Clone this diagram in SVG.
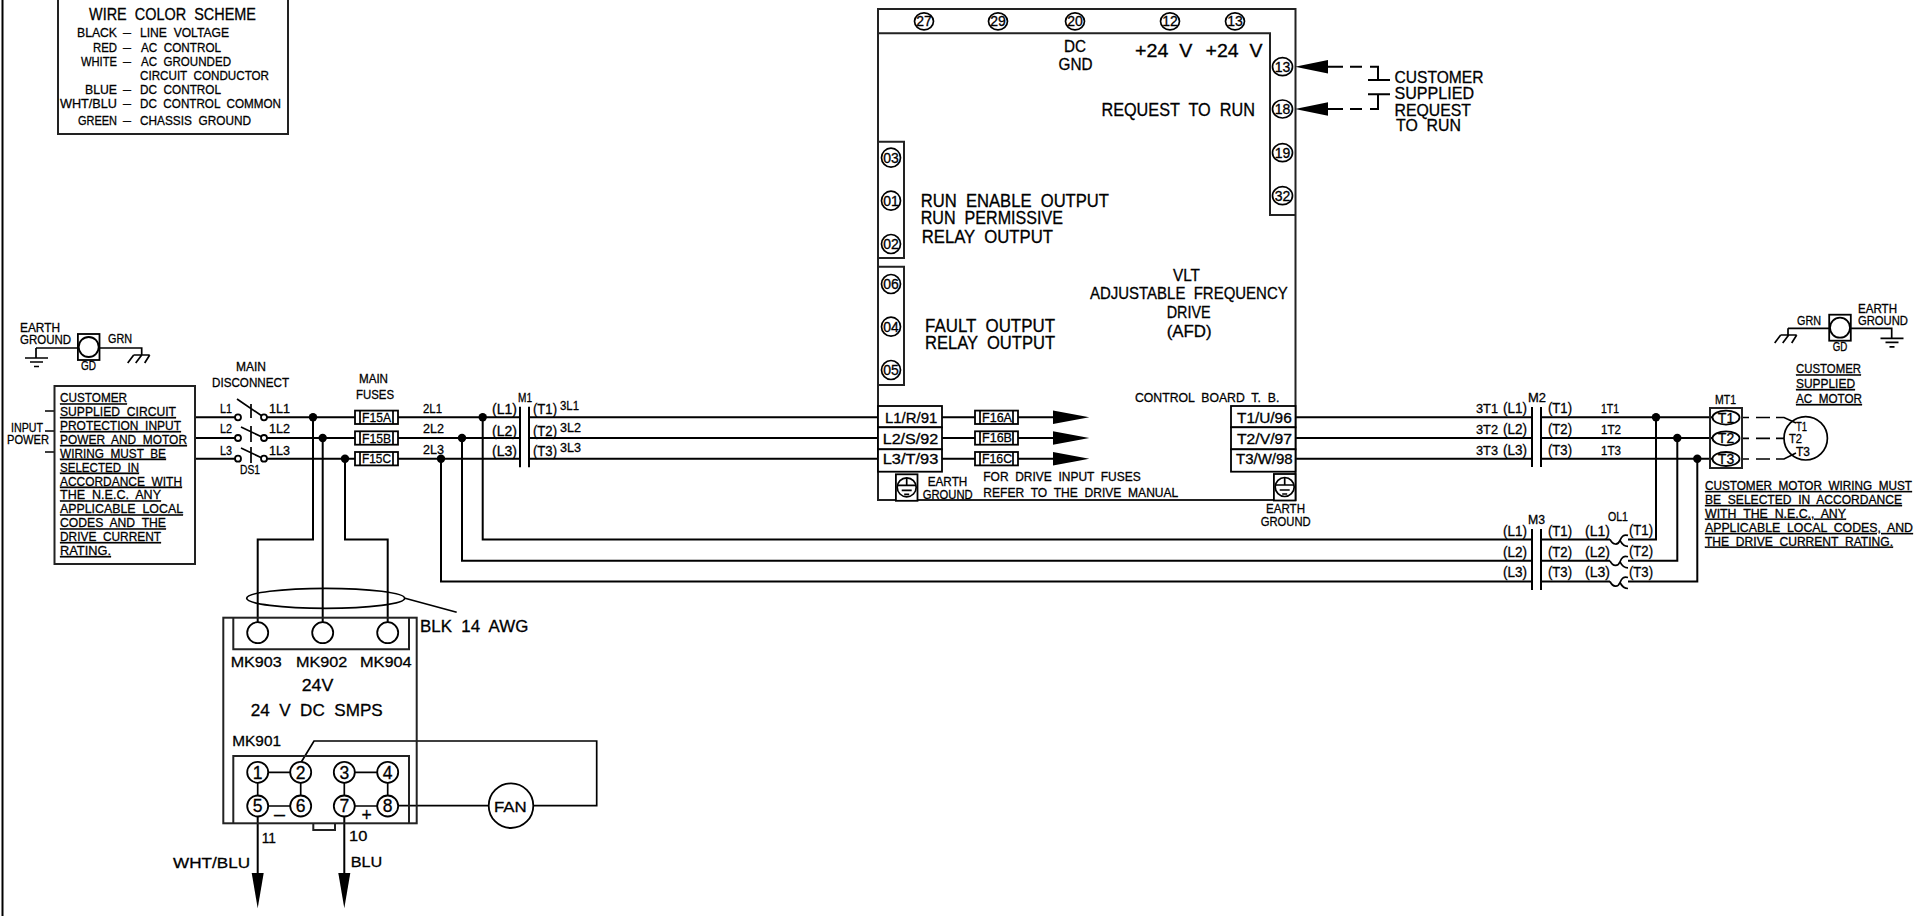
<svg xmlns="http://www.w3.org/2000/svg" width="1923" height="916" viewBox="0 0 1923 916">
<style>
text{font-family:"Liberation Sans",Arial,sans-serif;fill:#000;stroke:#000;stroke-width:.3px;word-spacing:.28em}
.s10{font-size:12px}.s11{font-size:12px}.s12{font-size:13px}.s13{font-size:13.500px}.s14{font-size:14px}.s15{font-size:15.500px}.s16{font-size:16.500px}.s17{font-size:17.500px}
.m{text-anchor:middle}
.u{text-decoration:underline}
.w{fill:none;stroke:#000;stroke-width:2}
.t{fill:none;stroke:#000;stroke-width:1.700}
.b{fill:#fff;stroke:#000;stroke-width:1.800}
.n{fill:none;stroke:#222;stroke-width:2}
.j{fill:#000;stroke:none}
.a{fill:#000;stroke:none}
</style>
<defs>
<g id="fuse"><rect class="b" x="0" y="-6.700" width="43" height="13.400"/><path class="t" d="M5-6.700V6.700M38-6.700V6.700"/></g>
<g id="gnd"><path class="t" d="M-11.500 0H11.500M-6.500 4H6.500M-2.500 8.500H2.500"/></g>
<g id="chassis"><path class="t" d="M-8 0H8M-8 0L-14 8M0 0L-6 8M8 0L3 8"/></g>
<g id="gdbox"><rect class="b" x="-10.800" y="-13" width="21.600" height="26"/><circle class="b" cx="0" cy="0" r="10"/></g>
<g id="earth"><rect class="b" x="-10.800" y="-13" width="21.600" height="26.500"/><circle class="t" cx="0" cy="0" r="9.500"/><path class="t" d="M0-9.500V-2M-9.500-2H9.500M-5 3H5M-2.500 7H2.500"/></g>
<g id="coil"><path class="t" d="M0 0C3 6 8 6 10 1C12-4 14-5 18-4M10 1C12 5 14 7 18 7"/></g>
</defs>
<g id="connectors">
<path class="w" d="M2.500 0V916"/>
<path class="w" d="M195 417.300H235M267 417.300H520M529 417.300H878"/>
<path class="w" d="M195 438H235M267 438H520M529 438H878"/>
<path class="w" d="M195 458.700H235M267 458.700H520M529 458.700H878"/>
<path class="w" d="M942 417.300H1053M942 438H1053M942 458.700H1053"/>
<path class="w" d="M1295 417.300H1532M1541 417.300H1712M1295 438H1532M1541 438H1712M1295 458.700H1532M1541 458.700H1712"/>
<path class="w" d="M482.700 417.300V539.400H1532M1541 539.400H1610M1628 539.400H1656V417.300"/>
<path class="w" d="M462 438V560.800H1532M1541 560.800H1610M1628 560.800H1677.300V438"/>
<path class="w" d="M441 458.700V581.500H1532M1541 581.500H1610M1628 581.500H1697.300V458.700"/>
<path class="w" d="M313 417.300V539.400H257.700V622"/>
<path class="w" d="M322.700 438V622"/>
<path class="w" d="M345 458.700V539.400H387.700V622"/>
<path class="t" d="M1742 417.500H1749M1756 417.500H1770M1776 417.500H1784L1796 423M1742 438.300H1749M1756 438.300H1770M1776 438.300H1784M1742 459H1749M1756 459H1770M1776 459H1784L1796 453"/>
<path class="t" d="M45 411H54M45 431H54M45 452H54"/>
<path class="t" d="M405 598.300L456.700 612.300"/>
<path class="t" d="M300.700 763L314 741H596.700V805.700H533M489 805.700H398"/>
<path class="w" d="M257.700 816V875M344.300 816V875"/>
<path class="w" d="M1328 66.700H1343M1350 66.700H1362M1370 66.700H1378V80M1368 80H1390M1328 109H1343M1350 109H1362M1370 109H1378V94.300M1368 94.300H1390"/>
<path class="t" d="M36 348V358M99 348H141.700V355"/>
<path class="t" d="M36 348H78"/>
<path class="t" d="M1788 328.300V335M1788 328.300H1829M1850.700 328.300H1891.700V338.300"/>
</g>
<g id="junctions">
<circle class="j" cx="313" cy="417.300" r="4.200"/><circle class="j" cx="322.700" cy="438" r="4.200"/><circle class="j" cx="345" cy="458.700" r="4.200"/>
<circle class="j" cx="482.700" cy="417.300" r="4.200"/><circle class="j" cx="462" cy="438" r="4.200"/><circle class="j" cx="441" cy="458.700" r="4.200"/>
<circle class="j" cx="1656" cy="417.300" r="4.200"/><circle class="j" cx="1677.300" cy="438" r="4.200"/><circle class="j" cx="1697.300" cy="458.700" r="4.200"/>
</g>
<g id="wire-color-scheme">
<rect class="n" x="58" y="-2" width="230" height="136"/>
<text class="s16" x="89" y="20" textLength="167" lengthAdjust="spacingAndGlyphs">WIRE COLOR SCHEME</text>
<text class="s13" y="37"><tspan x="77" textLength="40" lengthAdjust="spacingAndGlyphs">BLACK</tspan> <tspan x="123" textLength="8" lengthAdjust="spacingAndGlyphs">–</tspan> <tspan x="140" textLength="89" lengthAdjust="spacingAndGlyphs">LINE VOLTAGE</tspan></text>
<text class="s13" y="51.500"><tspan x="93" textLength="24" lengthAdjust="spacingAndGlyphs">RED</tspan> <tspan x="123" textLength="8" lengthAdjust="spacingAndGlyphs">–</tspan> <tspan x="141" textLength="80" lengthAdjust="spacingAndGlyphs">AC CONTROL</tspan></text>
<text class="s13" y="65.700"><tspan x="81" textLength="36" lengthAdjust="spacingAndGlyphs">WHITE</tspan> <tspan x="123" textLength="8" lengthAdjust="spacingAndGlyphs">–</tspan> <tspan x="141" textLength="90" lengthAdjust="spacingAndGlyphs">AC GROUNDED</tspan></text>
<text class="s13" x="140" y="80" textLength="129" lengthAdjust="spacingAndGlyphs">CIRCUIT CONDUCTOR</text>
<text class="s13" y="94"><tspan x="85" textLength="32" lengthAdjust="spacingAndGlyphs">BLUE</tspan> <tspan x="123" textLength="8" lengthAdjust="spacingAndGlyphs">–</tspan> <tspan x="140" textLength="81" lengthAdjust="spacingAndGlyphs">DC CONTROL</tspan></text>
<text class="s13" y="108"><tspan x="60" textLength="57" lengthAdjust="spacingAndGlyphs">WHT/BLU</tspan> <tspan x="123" textLength="8" lengthAdjust="spacingAndGlyphs">–</tspan> <tspan x="140" textLength="141" lengthAdjust="spacingAndGlyphs">DC CONTROL COMMON</tspan></text>
<text class="s13" y="124.500"><tspan x="78" textLength="39" lengthAdjust="spacingAndGlyphs">GREEN</tspan> <tspan x="123" textLength="8" lengthAdjust="spacingAndGlyphs">–</tspan> <tspan x="140" textLength="111" lengthAdjust="spacingAndGlyphs">CHASSIS GROUND</tspan></text>
</g>
<g id="ground-left">
<use href="#gnd" x="36.500" y="358"/><use href="#chassis" x="141.700" y="355"/><use href="#gdbox" x="88.700" y="347"/>
<text class="s12" x="20" y="332" textLength="40" lengthAdjust="spacingAndGlyphs">EARTH</text>
<text class="s12" x="20" y="344" textLength="51" lengthAdjust="spacingAndGlyphs">GROUND</text>
<text class="s12" x="108" y="343" textLength="24" lengthAdjust="spacingAndGlyphs">GRN</text>
<text class="s11" x="81" y="370" textLength="15" lengthAdjust="spacingAndGlyphs">GD</text>
</g>
<g id="input-note">
<rect class="n" x="54.500" y="386" width="140.500" height="178"/>
<text class="s13 u" x="60" y="402.300" textLength="67" lengthAdjust="spacingAndGlyphs">CUSTOMER</text>
<text class="s13 u" x="60" y="416" textLength="116" lengthAdjust="spacingAndGlyphs">SUPPLIED CIRCUIT</text>
<text class="s13 u" x="60" y="430" textLength="121" lengthAdjust="spacingAndGlyphs">PROTECTION INPUT</text>
<text class="s13 u" x="60" y="444" textLength="127" lengthAdjust="spacingAndGlyphs">POWER AND MOTOR</text>
<text class="s13 u" x="60" y="457.700" textLength="106" lengthAdjust="spacingAndGlyphs">WIRING MUST BE</text>
<text class="s13 u" x="60" y="471.700" textLength="79" lengthAdjust="spacingAndGlyphs">SELECTED IN</text>
<text class="s13 u" x="60" y="485.700" textLength="122" lengthAdjust="spacingAndGlyphs">ACCORDANCE WITH</text>
<text class="s13 u" x="60" y="499.300" textLength="101" lengthAdjust="spacingAndGlyphs">THE N.E.C. ANY</text>
<text class="s13 u" x="60" y="513.300" textLength="123" lengthAdjust="spacingAndGlyphs">APPLICABLE LOCAL</text>
<text class="s13 u" x="60" y="527.300" textLength="106" lengthAdjust="spacingAndGlyphs">CODES AND THE</text>
<text class="s13 u" x="60" y="541" textLength="101" lengthAdjust="spacingAndGlyphs">DRIVE CURRENT</text>
<text class="s13 u" x="60" y="555" textLength="51" lengthAdjust="spacingAndGlyphs">RATING.</text>
<text class="s12" x="11" y="432" textLength="32" lengthAdjust="spacingAndGlyphs">INPUT</text>
<text class="s12" x="7" y="444" textLength="42" lengthAdjust="spacingAndGlyphs">POWER</text>
</g>
<g id="ds1">
<path class="t" d="M237 399L262 416M251 404V418M241 427L262 437M251 426V442M241 448L262 458M251 447V463"/>
<circle class="b" cx="238" cy="417.300" r="3"/><circle class="b" cx="264" cy="417.300" r="3"/>
<circle class="b" cx="238" cy="438" r="3"/><circle class="b" cx="264" cy="438" r="3"/>
<circle class="b" cx="238" cy="458.700" r="3"/><circle class="b" cx="264" cy="458.700" r="3"/>
<text class="s12" x="236" y="371" textLength="30" lengthAdjust="spacingAndGlyphs">MAIN</text>
<text class="s12" x="212" y="387" textLength="77" lengthAdjust="spacingAndGlyphs">DISCONNECT</text>
<text class="s12" x="220" y="413" textLength="12" lengthAdjust="spacingAndGlyphs">L1</text>
<text class="s12" x="269" y="413" textLength="21" lengthAdjust="spacingAndGlyphs">1L1</text>
<text class="s12" x="220" y="433" textLength="12" lengthAdjust="spacingAndGlyphs">L2</text>
<text class="s12" x="269" y="433" textLength="21" lengthAdjust="spacingAndGlyphs">1L2</text>
<text class="s12" x="220" y="455" textLength="12" lengthAdjust="spacingAndGlyphs">L3</text>
<text class="s12" x="269" y="455" textLength="21" lengthAdjust="spacingAndGlyphs">1L3</text>
<text class="s12" x="240" y="474" textLength="20" lengthAdjust="spacingAndGlyphs">DS1</text>
</g>
<g id="main-fuses">
<use href="#fuse" x="355" y="417.300"/><use href="#fuse" x="355" y="438"/><use href="#fuse" x="355" y="458.700"/>
<text class="s12" x="359" y="383" textLength="29" lengthAdjust="spacingAndGlyphs">MAIN</text>
<text class="s12" x="356" y="399" textLength="38" lengthAdjust="spacingAndGlyphs">FUSES</text>
<text class="s13" x="362" y="422" textLength="29" lengthAdjust="spacingAndGlyphs">F15A</text>
<text class="s13" x="362" y="442.700" textLength="29" lengthAdjust="spacingAndGlyphs">F15B</text>
<text class="s13" x="362" y="463.300" textLength="29" lengthAdjust="spacingAndGlyphs">F15C</text>
<text class="s13" x="423" y="412.700" textLength="19" lengthAdjust="spacingAndGlyphs">2L1</text>
<text class="s13" x="423" y="433" textLength="21" lengthAdjust="spacingAndGlyphs">2L2</text>
<text class="s13" x="423" y="454" textLength="21" lengthAdjust="spacingAndGlyphs">2L3</text>
</g>
<g id="m1">
<path class="w" d="M520 406.700V467.300M529 406.700V467.300"/>
<text class="s12" x="518" y="402" textLength="14" lengthAdjust="spacingAndGlyphs">M1</text>
<text class="s14" x="492" y="414" textLength="25" lengthAdjust="spacingAndGlyphs">(L1)</text>
<text class="s14" x="492" y="436" textLength="25" lengthAdjust="spacingAndGlyphs">(L2)</text>
<text class="s14" x="492" y="456" textLength="25" lengthAdjust="spacingAndGlyphs">(L3)</text>
<text class="s14" x="533" y="414" textLength="24" lengthAdjust="spacingAndGlyphs">(T1)</text>
<text class="s14" x="533" y="436" textLength="24" lengthAdjust="spacingAndGlyphs">(T2)</text>
<text class="s14" x="533" y="456" textLength="24" lengthAdjust="spacingAndGlyphs">(T3)</text>
<text class="s13" x="560" y="410" textLength="19" lengthAdjust="spacingAndGlyphs">3L1</text>
<text class="s13" x="560" y="432" textLength="21" lengthAdjust="spacingAndGlyphs">3L2</text>
<text class="s13" x="560" y="452" textLength="21" lengthAdjust="spacingAndGlyphs">3L3</text>
</g>
<g id="drive">
<path class="n" d="M878 9H1295.500V500H878ZM878 33.300H1270V215H1295.500M878 141.700H904V258H878M878 266.700H904V385H878"/>
<rect class="b" x="878" y="406" width="64" height="21.300"/><rect class="b" x="878" y="427.300" width="64" height="22"/><rect class="b" x="878" y="449.300" width="64" height="22.400"/>
<rect class="b" x="1231" y="406" width="64.500" height="21.300"/><rect class="b" x="1231" y="427.300" width="64.500" height="22"/><rect class="b" x="1231" y="449.300" width="64.500" height="22.400"/>
<use href="#earth" x="906.700" y="487.300"/><use href="#earth" x="1284.700" y="487"/>
<ellipse class="t" cx="924" cy="21.300" rx="9.500" ry="8.500"/><ellipse class="t" cx="998" cy="21.300" rx="9.500" ry="8.500"/><ellipse class="t" cx="1075" cy="21.300" rx="9.500" ry="8.500"/><ellipse class="t" cx="1170" cy="21.300" rx="9.500" ry="8.500"/><ellipse class="t" cx="1235" cy="21.300" rx="9.500" ry="8.500"/>
<ellipse class="t" cx="1282.500" cy="66.700" rx="10" ry="9"/><ellipse class="t" cx="1282.500" cy="109" rx="10" ry="9"/><ellipse class="t" cx="1282.500" cy="152.700" rx="10" ry="9"/><ellipse class="t" cx="1282.500" cy="195.700" rx="10" ry="9"/>
<circle class="t" cx="891" cy="157.700" r="9.500"/><circle class="t" cx="891" cy="200.700" r="9.500"/><circle class="t" cx="891" cy="244" r="9.500"/><circle class="t" cx="891" cy="284" r="9.500"/><circle class="t" cx="891" cy="326.700" r="9.500"/><circle class="t" cx="891" cy="370" r="9.500"/>
<text class="s14 m" x="924" y="26.300">27</text><text class="s14 m" x="998" y="26.300">29</text><text class="s14 m" x="1075" y="26.300">20</text><text class="s14 m" x="1170" y="26.300">12</text><text class="s14 m" x="1235" y="26.300">13</text>
<text class="s14 m" x="1282.500" y="71.800">13</text><text class="s14 m" x="1282.500" y="114">18</text><text class="s14 m" x="1282.500" y="157.800">19</text><text class="s14 m" x="1282.500" y="200.800">32</text>
<text class="s14 m" x="891" y="162.800">03</text><text class="s14 m" x="891" y="205.800">01</text><text class="s14 m" x="891" y="249">02</text><text class="s14 m" x="891" y="289">06</text><text class="s14 m" x="891" y="331.800">04</text><text class="s14 m" x="891" y="375">05</text>
<text class="s16" x="1064" y="51.700" textLength="22" lengthAdjust="spacingAndGlyphs">DC</text>
<text class="s16" x="1058.600" y="70" textLength="34" lengthAdjust="spacingAndGlyphs">GND</text>
<text class="s17" x="1135" y="57.300" textLength="57.400" lengthAdjust="spacingAndGlyphs">+24 V</text>
<text class="s17" x="1205.500" y="57.300" textLength="57" lengthAdjust="spacingAndGlyphs">+24 V</text>
<text class="s17" x="1101.400" y="115.700" textLength="153.600" lengthAdjust="spacingAndGlyphs">REQUEST TO RUN</text>
<text class="s17" x="920.700" y="206.700" textLength="188.300" lengthAdjust="spacingAndGlyphs">RUN ENABLE OUTPUT</text>
<text class="s17" x="920.700" y="224.300" textLength="142.300" lengthAdjust="spacingAndGlyphs">RUN PERMISSIVE</text>
<text class="s17" x="921.700" y="243" textLength="131.300" lengthAdjust="spacingAndGlyphs">RELAY OUTPUT</text>
<text class="s17" x="925" y="332.300" textLength="130" lengthAdjust="spacingAndGlyphs">FAULT OUTPUT</text>
<text class="s17" x="925" y="349" textLength="130" lengthAdjust="spacingAndGlyphs">RELAY OUTPUT</text>
<text class="s16" x="1173" y="280.700" textLength="27" lengthAdjust="spacingAndGlyphs">VLT</text>
<text class="s16" x="1090" y="299.300" textLength="197.700" lengthAdjust="spacingAndGlyphs">ADJUSTABLE FREQUENCY</text>
<text class="s16" x="1166.700" y="317.700" textLength="44" lengthAdjust="spacingAndGlyphs">DRIVE</text>
<text class="s16" x="1166.700" y="336.700" textLength="45" lengthAdjust="spacingAndGlyphs">(AFD)</text>
<text class="s13" x="1135" y="401.700" textLength="144.300" lengthAdjust="spacingAndGlyphs">CONTROL BOARD T. B.</text>
<text class="s14" x="885" y="423.300" textLength="52.300" lengthAdjust="spacingAndGlyphs">L1/R/91</text>
<text class="s14" x="882.700" y="444" textLength="55.600" lengthAdjust="spacingAndGlyphs">L2/S/92</text>
<text class="s14" x="882.700" y="464.300" textLength="55.600" lengthAdjust="spacingAndGlyphs">L3/T/93</text>
<text class="s14" x="1237" y="423.300" textLength="54.700" lengthAdjust="spacingAndGlyphs">T1/U/96</text>
<text class="s14" x="1237" y="444" textLength="55" lengthAdjust="spacingAndGlyphs">T2/V/97</text>
<text class="s14" x="1236" y="464.300" textLength="56.700" lengthAdjust="spacingAndGlyphs">T3/W/98</text>
<text class="s13" x="927.700" y="485.700" textLength="39.600" lengthAdjust="spacingAndGlyphs">EARTH</text>
<text class="s13" x="922.700" y="499" textLength="50" lengthAdjust="spacingAndGlyphs">GROUND</text>
<text class="s13" x="983.300" y="481" textLength="157.400" lengthAdjust="spacingAndGlyphs">FOR DRIVE INPUT FUSES</text>
<text class="s13" x="983.300" y="496.700" textLength="195" lengthAdjust="spacingAndGlyphs">REFER TO THE DRIVE MANUAL</text>
<text class="s13" x="1266" y="513.300" textLength="39" lengthAdjust="spacingAndGlyphs">EARTH</text>
<text class="s13" x="1260.700" y="525.700" textLength="50" lengthAdjust="spacingAndGlyphs">GROUND</text>
</g>
<g id="drive-fuses">
<use href="#fuse" x="975" y="417.300"/><use href="#fuse" x="975" y="438"/><use href="#fuse" x="975" y="458.700"/>
<polygon class="a" points="1053,410.600 1089.300,417.300 1053,424"/><polygon class="a" points="1053,431.300 1089.300,438 1053,444.700"/><polygon class="a" points="1053,452 1089.300,458.700 1053,465.400"/>
<text class="s13" x="982" y="421.700" textLength="30" lengthAdjust="spacingAndGlyphs">F16A</text>
<text class="s13" x="982" y="442.300" textLength="30" lengthAdjust="spacingAndGlyphs">F16B</text>
<text class="s13" x="982" y="462.700" textLength="30" lengthAdjust="spacingAndGlyphs">F16C</text>
</g>
<g id="request-to-run">
<polygon class="a" points="1295,66.700 1328,60 1328,73.400"/><polygon class="a" points="1295,109 1328,102.300 1328,115.700"/>
<text class="s16" x="1394.500" y="82.700" textLength="89" lengthAdjust="spacingAndGlyphs">CUSTOMER</text>
<text class="s16" x="1394.500" y="99.300" textLength="79.500" lengthAdjust="spacingAndGlyphs">SUPPLIED</text>
<text class="s16" x="1394.500" y="115.700" textLength="76.500" lengthAdjust="spacingAndGlyphs">REQUEST</text>
<text class="s16" x="1396" y="131" textLength="65" lengthAdjust="spacingAndGlyphs">TO RUN</text>
</g>
<g id="m2">
<path class="w" d="M1532 407V467M1541 407V467"/>
<text class="s12" x="1528" y="402" textLength="18" lengthAdjust="spacingAndGlyphs">M2</text>
<text class="s13" x="1476" y="413" textLength="22" lengthAdjust="spacingAndGlyphs">3T1</text><text class="s14" x="1503" y="413" textLength="24" lengthAdjust="spacingAndGlyphs">(L1)</text><text class="s14" x="1548" y="413" textLength="24" lengthAdjust="spacingAndGlyphs">(T1)</text><text class="s13" x="1601" y="413" textLength="18" lengthAdjust="spacingAndGlyphs">1T1</text>
<text class="s13" x="1476" y="434" textLength="22" lengthAdjust="spacingAndGlyphs">3T2</text><text class="s14" x="1503" y="434" textLength="24" lengthAdjust="spacingAndGlyphs">(L2)</text><text class="s14" x="1548" y="434" textLength="24" lengthAdjust="spacingAndGlyphs">(T2)</text><text class="s13" x="1601" y="434" textLength="20" lengthAdjust="spacingAndGlyphs">1T2</text>
<text class="s13" x="1476" y="455" textLength="22" lengthAdjust="spacingAndGlyphs">3T3</text><text class="s14" x="1503" y="455" textLength="24" lengthAdjust="spacingAndGlyphs">(L3)</text><text class="s14" x="1548" y="455" textLength="24" lengthAdjust="spacingAndGlyphs">(T3)</text><text class="s13" x="1601" y="455" textLength="20" lengthAdjust="spacingAndGlyphs">1T3</text>
</g>
<g id="m3-ol1">
<path class="w" d="M1532 529V590M1541 529V590"/>
<use href="#coil" x="1610" y="539.400"/><use href="#coil" x="1610" y="560.800"/><use href="#coil" x="1610" y="581.500"/>
<text class="s12" x="1528" y="524" textLength="17" lengthAdjust="spacingAndGlyphs">M3</text>
<text class="s12" x="1608" y="521" textLength="20" lengthAdjust="spacingAndGlyphs">OL1</text>
<text class="s14" x="1503" y="536" textLength="24" lengthAdjust="spacingAndGlyphs">(L1)</text><text class="s14" x="1548" y="536" textLength="24" lengthAdjust="spacingAndGlyphs">(T1)</text><text class="s14" x="1585" y="536" textLength="25" lengthAdjust="spacingAndGlyphs">(L1)</text><text class="s14" x="1629" y="535" textLength="24" lengthAdjust="spacingAndGlyphs">(T1)</text>
<text class="s14" x="1503" y="557" textLength="24" lengthAdjust="spacingAndGlyphs">(L2)</text><text class="s14" x="1548" y="557" textLength="24" lengthAdjust="spacingAndGlyphs">(T2)</text><text class="s14" x="1585" y="557" textLength="25" lengthAdjust="spacingAndGlyphs">(L2)</text><text class="s14" x="1629" y="556" textLength="24" lengthAdjust="spacingAndGlyphs">(T2)</text>
<text class="s14" x="1503" y="577" textLength="24" lengthAdjust="spacingAndGlyphs">(L3)</text><text class="s14" x="1548" y="577" textLength="24" lengthAdjust="spacingAndGlyphs">(T3)</text><text class="s14" x="1585" y="577" textLength="25" lengthAdjust="spacingAndGlyphs">(L3)</text><text class="s14" x="1629" y="577" textLength="24" lengthAdjust="spacingAndGlyphs">(T3)</text>
</g>
<g id="mt1">
<rect class="n" x="1710" y="408" width="32" height="60"/>
<ellipse class="b" cx="1726" cy="417.600" rx="13.500" ry="7"/><ellipse class="b" cx="1726" cy="438.300" rx="13.500" ry="7"/><ellipse class="b" cx="1726" cy="459" rx="13.500" ry="7"/>
<text class="s14 m" x="1726" y="422.500">T1</text><text class="s14 m" x="1726" y="443.200">T2</text><text class="s14 m" x="1726" y="463.900">T3</text>
<text class="s12" x="1715" y="404" textLength="21" lengthAdjust="spacingAndGlyphs">MT1</text>
</g>
<g id="motor">
<circle class="t" cx="1805.700" cy="438.300" r="21.700"/>
<text class="s10" x="1796" y="430.700" textLength="11" lengthAdjust="spacingAndGlyphs">T1</text>
<text class="s10" x="1789" y="443" textLength="13" lengthAdjust="spacingAndGlyphs">T2</text>
<text class="s10" x="1796" y="456" textLength="14" lengthAdjust="spacingAndGlyphs">T3</text>
<text class="s13 u" x="1796" y="373.300" textLength="65" lengthAdjust="spacingAndGlyphs">CUSTOMER</text>
<text class="s13 u" x="1796" y="388" textLength="59" lengthAdjust="spacingAndGlyphs">SUPPLIED</text>
<text class="s13 u" x="1796" y="403" textLength="66" lengthAdjust="spacingAndGlyphs">AC MOTOR</text>
<text class="s10 u" x="1705" y="490" textLength="207" lengthAdjust="spacingAndGlyphs">CUSTOMER MOTOR WIRING MUST</text>
<text class="s10 u" x="1705" y="504" textLength="197" lengthAdjust="spacingAndGlyphs">BE SELECTED IN ACCORDANCE</text>
<text class="s10 u" x="1705" y="517.700" textLength="141" lengthAdjust="spacingAndGlyphs">WITH THE N.E.C., ANY</text>
<text class="s10 u" x="1705" y="532" textLength="208" lengthAdjust="spacingAndGlyphs">APPLICABLE LOCAL CODES, AND</text>
<text class="s10 u" x="1705" y="545.700" textLength="188" lengthAdjust="spacingAndGlyphs">THE DRIVE CURRENT RATING.</text>
</g>
<g id="ground-right">
<use href="#chassis" x="1788.700" y="335"/><use href="#gnd" x="1892" y="338.300"/><use href="#gdbox" x="1840" y="327.700"/>
<text class="s12" x="1797" y="325" textLength="24" lengthAdjust="spacingAndGlyphs">GRN</text>
<text class="s12" x="1858" y="312.700" textLength="39" lengthAdjust="spacingAndGlyphs">EARTH</text>
<text class="s12" x="1858" y="325" textLength="50" lengthAdjust="spacingAndGlyphs">GROUND</text>
<text class="s11" x="1832.700" y="351" textLength="14.600" lengthAdjust="spacingAndGlyphs">GD</text>
</g>
<g id="smps">
<rect class="n" x="223.300" y="617.700" width="193.400" height="205.600"/>
<path class="n" d="M233.300 617.700V649.300H409V617.700M233.300 823.300V756H409V823.300M313.300 823.300V830H335V823.300"/>
<ellipse class="t" cx="325.700" cy="598.300" rx="79" ry="10"/>
<circle class="b" cx="257.700" cy="632.700" r="10.500"/><circle class="b" cx="322.700" cy="632.700" r="10.500"/><circle class="b" cx="387.700" cy="632.700" r="10.500"/>
<path class="t" d="M257.700 772.300H300.700M344.300 772.300H387.700M257.700 806H300.700M344.300 806H387.700M257.700 772.300V806M300.700 772.300V806M344.300 772.300V806M387.700 772.300V806"/>
<circle class="b" cx="257.700" cy="772.300" r="10.500"/><circle class="b" cx="300.700" cy="772.300" r="10.500"/><circle class="b" cx="344.300" cy="772.300" r="10.500"/><circle class="b" cx="387.700" cy="772.300" r="10.500"/>
<circle class="b" cx="257.700" cy="806" r="10.500"/><circle class="b" cx="300.700" cy="806" r="10.500"/><circle class="b" cx="344.300" cy="806" r="10.500"/><circle class="b" cx="387.700" cy="806" r="10.500"/>
<text class="s17 m" x="257.700" y="778.500">1</text><text class="s17 m" x="300.700" y="778.500">2</text><text class="s17 m" x="344.300" y="778.500">3</text><text class="s17 m" x="387.700" y="778.500">4</text>
<text class="s17 m" x="257.700" y="812.300">5</text><text class="s17 m" x="300.700" y="812.300">6</text><text class="s17 m" x="344.300" y="812.300">7</text><text class="s17 m" x="387.700" y="812.300">8</text>
<text class="s15" x="230.700" y="666.700" textLength="51" lengthAdjust="spacingAndGlyphs">MK903</text>
<text class="s15" x="296" y="666.700" textLength="51.300" lengthAdjust="spacingAndGlyphs">MK902</text>
<text class="s15" x="360" y="666.700" textLength="51.700" lengthAdjust="spacingAndGlyphs">MK904</text>
<text class="s16" x="301.700" y="690.700" textLength="31.600" lengthAdjust="spacingAndGlyphs">24V</text>
<text class="s16" x="250.700" y="715.700" textLength="132" lengthAdjust="spacingAndGlyphs">24 V DC SMPS</text>
<text class="s15" x="232.300" y="746" textLength="48.700" lengthAdjust="spacingAndGlyphs">MK901</text>
<text class="s16" x="420" y="632.300" textLength="108.300" lengthAdjust="spacingAndGlyphs">BLK 14 AWG</text>
<text class="s17" x="274" y="820" textLength="11" lengthAdjust="spacingAndGlyphs">–</text><text class="s17 m" x="366.700" y="820.500">+</text>
<polygon class="a" points="251.700,873 263.700,873 257.700,908.300"/><polygon class="a" points="338.300,873 350.300,873 344.300,908.300"/>
<text class="s15" x="261.700" y="842.700" textLength="14.300" lengthAdjust="spacingAndGlyphs">11</text>
<text class="s15" x="349" y="841" textLength="18.300" lengthAdjust="spacingAndGlyphs">10</text>
<text class="s15" x="173" y="868.300" textLength="77" lengthAdjust="spacingAndGlyphs">WHT/BLU</text>
<text class="s15" x="350.700" y="866.700" textLength="31.600" lengthAdjust="spacingAndGlyphs">BLU</text>
</g>
<g id="fan">
<circle class="b" cx="511" cy="805.700" r="22.300"/>
<text class="s15" x="494" y="811.700" textLength="32.700" lengthAdjust="spacingAndGlyphs">FAN</text>
</g>
</svg>
